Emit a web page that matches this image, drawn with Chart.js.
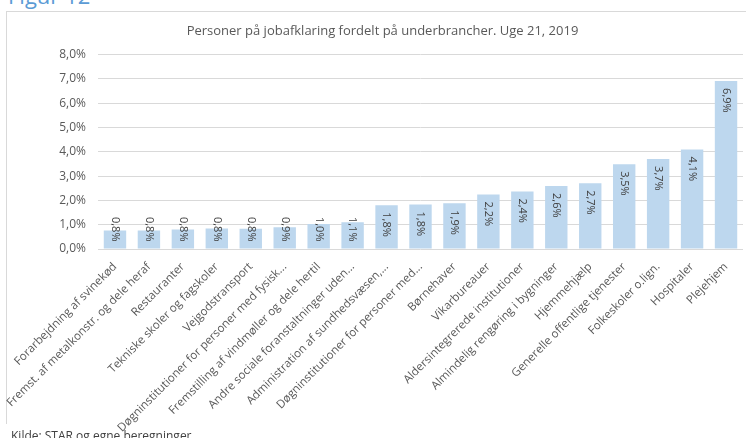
<!DOCTYPE html>
<html>
<head>
<meta charset="utf-8">
<script src="https://cdn.jsdelivr.net/npm/chart.js@4"></script>
<style>
  html, body { margin: 0; padding: 0; background: #fff; overflow: hidden; }
  body { width: 746px; height: 438px; position: relative; font-family: "Open Sans", sans-serif; }
  #figur { position: absolute; left: 8px; top: -16px; font-size: 22px; line-height: 22px; color: #5b9bd5; }
  #frame { position: absolute; left: 6px; top: 11px; width: 800px; height: 412px; border: 1px solid #d9d9d9; border-bottom: none; }
  #kilde { position: absolute; left: 11px; top: 429px; font-size: 12px; line-height: 14px; color: #404040; }
  canvas { position: absolute; left: 0; top: 0; }
</style>
</head>
<body>
<div id="figur">Figur 12</div>
<div id="frame"></div>
<canvas id="chart" width="746" height="438"></canvas>
<div id="kilde">Kilde: STAR og egne beregninger</div>
<script>
// underbrancher (Excel har selv forkortet de lange navne)
const categories = [
  'Forarbejdning af svinekød',
  'Fremst. af metalkonstr. og dele heraf',
  'Restauranter',
  'Tekniske skoler og fagskoler',
  'Vejgodstransport',
  'Døgninstitutioner for personer med fysisk...',
  'Fremstilling af vindmøller og dele hertil',
  'Andre sociale foranstaltninger uden...',
  'Administration af sundhedsvæsen,...',
  'Døgninstitutioner for personer med...',
  'Børnehaver',
  'Vikarbureauer',
  'Aldersintegrerede institutioner',
  'Almindelig rengøring i bygninger',
  'Hjemmehjælp',
  'Generelle offentlige tjenester',
  'Folkeskoler o.lign.',
  'Hospitaler',
  'Plejehjem'
];

// andel i procent
const shares = [0.76, 0.76, 0.8, 0.84, 0.83, 0.89, 1.03, 1.1, 1.8, 1.83, 1.88, 2.24, 2.37, 2.59, 2.71, 3.49, 3.7, 4.09, 6.91];

const yMin = 0;
const yMax = 8;
const yStep = 1;

const pct = (v) => v.toFixed(1).replace('.', ',') + '%';

// lodrette dataetiketter, som i Excel
const barLabels = {
  id: 'barLabels',
  afterDatasetsDraw(chart) {
    const ctx = chart.ctx;
    const meta = chart.getDatasetMeta(0);
    ctx.save();
    ctx.font = '11px "Open Sans"';
    ctx.fillStyle = '#404040';
    ctx.textAlign = 'left';
    ctx.textBaseline = 'middle';
    meta.data.forEach((bar, i) => {
      const txt = pct(shares[i]);
      const w = ctx.measureText(txt).width;
      let s = bar.y + 7;
      if (s + w > bar.base - 7) s = bar.base - 7 - w;
      ctx.save();
      ctx.translate(bar.x, s);
      ctx.rotate(Math.PI / 2);
      ctx.fillText(txt, 0, 0);
      ctx.restore();
    });
    ctx.restore();
  }
};

new Chart(document.getElementById('chart'), {
  type: 'bar',
  data: {
    labels: categories,
    datasets: [{
      data: shares,
      backgroundColor: '#bdd7ee',
      borderWidth: 0,
      barPercentage: 0.66,
      categoryPercentage: 1
    }]
  },
  options: {
    responsive: false,
    animation: false,
    layout: { padding: { left: 22, right: 3, top: 14, bottom: 0 } },
    plugins: {
      legend: { display: false },
      tooltip: { enabled: false },
      title: {
        display: true,
        text: 'Personer på jobafklaring fordelt på underbrancher. Uge 21, 2019',
        color: '#595959',
        font: { family: 'Open Sans', size: 13, weight: 'normal' },
        padding: { top: 9, bottom: 16 }
      }
    },
    scales: {
      x: {
        grid: { display: false, drawTicks: false },
        border: { display: false },
        ticks: {
          color: '#595959',
          font: { family: 'Open Sans', size: 11.5 },
          minRotation: 45,
          maxRotation: 45,
          autoSkip: false,
          padding: 11
        },
        afterFit: (scale) => {
          scale.height = 189;
          scale.paddingLeft = 0;
          scale.paddingRight = 0;
        }
      },
      y: {
        min: yMin,
        max: yMax,
        grid: { color: '#d9d9d9', drawTicks: false },
        border: { display: false },
        ticks: {
          stepSize: yStep,
          color: '#595959',
          font: { family: 'Open Sans', size: 12 },
          padding: 12,
          callback: (v) => pct(v)
        },
        afterFit: (scale) => { scale.width = 76; }
      }
    }
  },
  plugins: [barLabels]
});
</script>
</body>
</html>
